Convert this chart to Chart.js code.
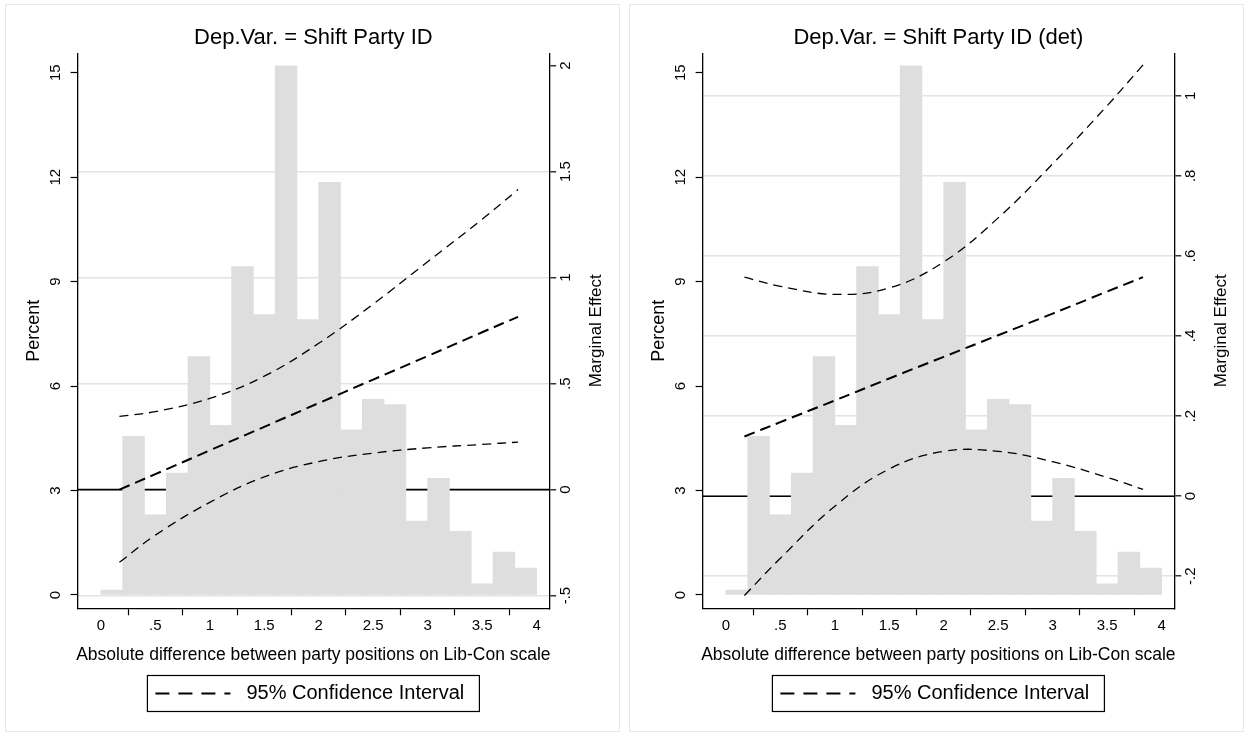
<!DOCTYPE html>
<html>
<head>
<meta charset="utf-8">
<script src="https://cdn.jsdelivr.net/npm/chart.js@4.4.1/dist/chart.umd.min.js"></script>
<style>
  body { margin: 0; background: #fff; }
  .panel { position: absolute; top: 0; width: 625px; height: 736px; }
</style>
</head>
<body>
<div class="panel" style="left:0"><canvas id="shiftChart" width="625" height="736"></canvas></div>
<div class="panel" style="left:625px"><canvas id="detChart" width="625" height="736"></canvas></div>
<script>
// histogram (same in both panels), bins of width .2
const binMid = [0.1, 0.3, 0.5, 0.7, 0.9, 1.1, 1.3, 1.5, 1.7, 1.9, 2.1, 2.3, 2.5, 2.7, 2.9, 3.1, 3.3, 3.5, 3.7, 3.9];
const binPercent = [0.14, 4.56, 2.30, 3.50, 6.85, 4.87, 9.43, 8.05, 15.2, 7.91, 11.85, 4.74, 5.62, 5.47, 2.12, 3.35, 1.83, 0.32, 1.23, 0.77];

// marginal effect curves
const meX = [0.17, 0.5, 1, 1.5, 2, 2.5, 3, 3.5, 3.83];
const meShift = [0.0, 0.073, 0.185, 0.296, 0.408, 0.519, 0.630, 0.742, 0.815];
const ciHiShift = [0.345, 0.368, 0.43, 0.535, 0.69, 0.875, 1.075, 1.275, 1.415];
const ciLoShift = [-0.343, -0.215, -0.06, 0.06, 0.132, 0.172, 0.197, 0.213, 0.224];
const meDet = [0.149, 0.185, 0.239, 0.294, 0.348, 0.402, 0.456, 0.511, 0.547];
const ciHiDet = [0.547, 0.524, 0.504, 0.52, 0.585, 0.695, 0.83, 0.975, 1.077];
const ciLoDet = [-0.248, -0.155, -0.025, 0.068, 0.112, 0.112, 0.086, 0.047, 0.017];

// tick labels
const xTicks = [0, 0.5, 1, 1.5, 2, 2.5, 3, 3.5, 4];
const pctTicks = [0, 3, 6, 9, 12, 15];
const meTicksShift = [-0.5, 0, 0.5, 1, 1.5, 2];
const meTicksDet = [-0.2, 0, 0.2, 0.4, 0.6, 0.8, 1];

const FONT = "'Liberation Sans', Arial, sans-serif";
const fmt = v => String(v).replace(/^(-?)0\./, '$1.');
const pts = (xs, ys) => xs.map((x, i) => ({ x: x, y: ys[i] }));

function makePanel(id, title, me, hi, lo, rightTicks, rightMin, rightMax, noGrid, boxLeft) {
    const drawText = {
        id: 'stataText',
        beforeDatasetsDraw(chart) {
            // reference line at zero, behind the bars
            const ctx = chart.ctx, a = chart.chartArea;
            const y0 = chart.scales.y2.getPixelForValue(0);
            ctx.save();
            ctx.strokeStyle = '#000';
            ctx.lineWidth = 1.6;
            ctx.beginPath();
            ctx.moveTo(a.left, y0);
            ctx.lineTo(a.right, y0);
            ctx.stroke();
            ctx.restore();
        },
        afterDraw(chart) {
            const ctx = chart.ctx, a = chart.chartArea;
            const cx = (a.left + a.right) / 2;
            const cy = (a.top + a.bottom) / 2;
            ctx.save();
            ctx.fillStyle = '#000';
            ctx.textAlign = 'center';
            ctx.textBaseline = 'middle';

            // frame of the panel
            ctx.strokeStyle = '#e8e8e8';
            ctx.lineWidth = 1;
            ctx.strokeRect(boxLeft, 4.5, 614, 727);

            ctx.font = '22px ' + FONT;
            ctx.fillText(title, cx, 38);

            ctx.font = '15px ' + FONT;
            xTicks.forEach(v => ctx.fillText(fmt(v), chart.scales.x.getPixelForValue(v), 626));

            const vert = (text, x, y, font) => {
                ctx.save();
                ctx.translate(x, y);
                ctx.rotate(-Math.PI / 2);
                ctx.font = font;
                ctx.fillText(text, 0, 0);
                ctx.restore();
            };
            pctTicks.forEach(v => vert(fmt(v), 56, chart.scales.y.getPixelForValue(v), '15px ' + FONT));
            rightTicks.forEach(v => vert(fmt(v), 566, chart.scales.y2.getPixelForValue(v), '15px ' + FONT));
            vert('Percent', 34, cy, '18px ' + FONT);
            vert('Marginal Effect', 596, cy, '17px ' + FONT);

            ctx.font = '17.5px ' + FONT;
            ctx.fillText('Absolute difference between party positions on Lib-Con scale', cx, 655);

            // legend
            const lx = cx - 166, ly = 675.5;
            ctx.strokeStyle = '#000';
            ctx.lineWidth = 1.2;
            ctx.strokeRect(lx, ly, 332, 36);
            ctx.lineWidth = 2;
            ctx.setLineDash([14, 9]);
            ctx.beginPath();
            ctx.moveTo(lx + 8, ly + 18);
            ctx.lineTo(lx + 83, ly + 18);
            ctx.stroke();
            ctx.setLineDash([]);
            ctx.font = '20px ' + FONT;
            ctx.textAlign = 'left';
            ctx.fillText('95% Confidence Interval', lx + 99, ly + 18);
            ctx.restore();
        }
    };

    new Chart(document.getElementById(id), {
        type: 'bar',
        data: {
            datasets: [{
                type: 'bar',
                data: pts(binMid, binPercent),
                backgroundColor: '#dedede',
                borderWidth: 0,
                barPercentage: 1,
                categoryPercentage: 1,
                yAxisID: 'y',
                order: 2
            }, {
                type: 'line',
                data: pts(meX, me),
                borderColor: '#000',
                borderWidth: 2,
                borderDash: [11, 6],
                pointRadius: 0,
                tension: 0.4,
                yAxisID: 'y2',
                order: 1
            }, {
                type: 'line',
                data: pts(meX, hi),
                borderColor: '#000',
                borderWidth: 1.3,
                borderDash: [9, 6],
                pointRadius: 0,
                tension: 0.4,
                yAxisID: 'y2',
                order: 1
            }, {
                type: 'line',
                data: pts(meX, lo),
                borderColor: '#000',
                borderWidth: 1.3,
                borderDash: [9, 6],
                pointRadius: 0,
                tension: 0.4,
                yAxisID: 'y2',
                order: 1
            }]
        },
        options: {
            responsive: false,
            animation: false,
            devicePixelRatio: 1,
            layout: { padding: { top: 53.3, left: 0, right: 0, bottom: 0 } },
            plugins: { legend: { display: false }, tooltip: { enabled: false } },
            scales: {
                x: {
                    type: 'linear',
                    offset: false,
                    min: -0.214,
                    max: 4.116,
                    afterBuildTicks: s => { s.ticks = xTicks.map(v => ({ value: v })); },
                    afterFit: s => { s.height = 127.7; },
                    ticks: { display: false },
                    grid: { drawOnChartArea: false, tickLength: 7, tickColor: '#000', tickWidth: 1.2 },
                    border: { color: '#000', width: 1.3 }
                },
                y: {
                    type: 'linear',
                    position: 'left',
                    min: -0.382,
                    max: 15.557,
                    afterBuildTicks: s => { s.ticks = pctTicks.map(v => ({ value: v })); },
                    afterFit: s => { s.width = 77.6; },
                    ticks: { display: false },
                    grid: { drawOnChartArea: false, tickLength: 7, tickColor: '#000', tickWidth: 1.2 },
                    border: { color: '#000', width: 1.3 }
                },
                y2: {
                    type: 'linear',
                    position: 'right',
                    min: rightMin,
                    max: rightMax,
                    afterBuildTicks: s => { s.ticks = rightTicks.map(v => ({ value: v })); },
                    afterFit: s => { s.width = 75.8; },
                    ticks: { display: false },
                    grid: {
                        color: c => (c.tick && noGrid.includes(c.tick.value)) ? 'rgba(0,0,0,0)' : '#e3e3e3',
                        lineWidth: 1.6,
                        tickLength: 7,
                        tickColor: '#000',
                        tickWidth: 1.2
                    },
                    border: { color: '#000', width: 1.3 }
                }
            }
        },
        plugins: [drawText]
    });
}

makePanel('shiftChart', 'Dep.Var. = Shift Party ID', meShift, ciHiShift, ciLoShift,
    meTicksShift, -0.560, 2.058, [2], 5.5);
makePanel('detChart', 'Dep.Var. = Shift Party ID (det)', meDet, ciHiDet, ciLoDet,
    meTicksDet, -0.280, 1.106, [], 4.5);
</script>
</body>
</html>
